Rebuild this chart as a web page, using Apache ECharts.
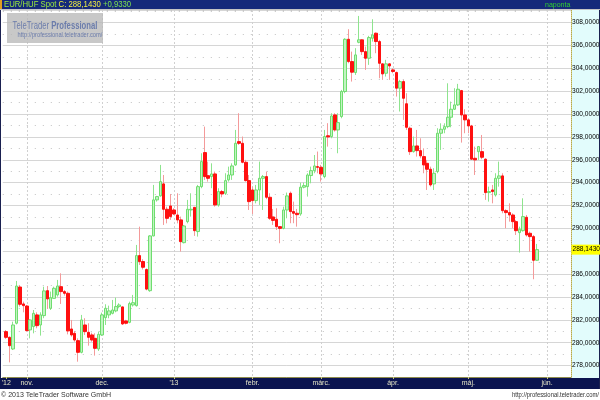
<!DOCTYPE html>
<html><head><meta charset="utf-8">
<script src="https://cdn.jsdelivr.net/npm/echarts@6/dist/echarts.min.js"></script>
<style>html,body{margin:0;padding:0;background:#fff}#c{width:600px;height:400px}</style>
</head><body><div id="c"></div>
<script>
// Trading days (weekdays) shown on the category axis
const monthDays = [
  ['2012-10', [23,24,25,26,29,30,31]],
  ['2012-11', [1,2,5,6,7,8,9,12,13,14,15,16,19,20,21,22,23,26,27,28,29,30]],
  ['2012-12', [3,4,5,6,7,10,11,12,13,14,17,18,19,20,21,24,25,26,27,28,31]],
  ['2013-01', [1,2,3,4,7,8,9,10,11,14,15,16,17,18,21,22,23,24,25,28,29,30,31]],
  ['2013-02', [1,4,5,6,7,8,11,12,13,14,15,18,19,20,21,22,25,26,27,28]],
  ['2013-03', [1,4,5,6,7,8,11,12,13,14,15,18,19,20,21,22,25,26,27,28,29]],
  ['2013-04', [1,2,3,4,5,8,9,10,11,12,15,16,17,18,19,22,23,24,25,26,29,30]],
  ['2013-05', [1,2,3,6,7,8,9,10,13,14,15,16,17,20,21,22,23,24,27,28,29,30,31]],
  ['2013-06', [3,4,5,6,7,10,11,12]]
];
const monthLabels = {
  '2012-10': "'12", '2012-11': 'nov.', '2012-12': 'dec.', '2013-01': "'13",
  '2013-02': 'febr.', '2013-03': 'márc.', '2013-04': 'ápr.', '2013-05': 'máj.', '2013-06': 'jún.'
};
const firstDataDate = '2012-10-24';

// EUR/HUF daily OHLC, 2012-10-24 .. 2013-05-29
const open = [280.97,280.47,279.45,281.70,284.87,283.39,283.21,281.12,281.41,282.43,
281.55,282.37,284.55,283.01,283.88,284.18,284.90,284.47,284.32,281.20,
280.82,280.18,279.16,281.55,280.91,280.68,280.38,279.45,280.68,282.19,
282.43,282.57,282.78,283.16,283.13,281.90,281.78,283.30,283.24,287.62,
287.10,286.40,284.55,289.34,292.49,292.84,293.89,291.67,291.96,291.61,
291.17,290.74,288.75,290.59,291.61,291.84,289.72,293.65,296.63,294.61,
294.53,294.76,292.05,293.22,293.07,294.24,294.67,295.55,297.59,297.44,
295.78,294.18,293.36,292.43,293.36,294.38,294.53,292.72,291.00,290.80,
290.15,290.00,291.61,293.07,291.47,291.32,291.26,293.60,293.65,294.62,
295.05,295.40,295.34,294.53,298.10,298.03,299.92,298.61,299.78,301.97,
306.54,304.59,303.63,306.28,306.49,305.46,304.88,306.63,307.07,306.34,
304.39,303.57,304.39,303.86,303.63,302.26,302.84,300.90,298.76,296.71,
297.21,296.80,296.28,295.69,295.17,293.89,294.97,298.32,298.67,298.90,
299.72,300.42,300.80,302.05,299.92,299.49,298.96,296.13,296.71,296.71,
296.05,293.13,293.36,292.92,294.38,294.59,291.55,291.38,291.17,290.59,
289.63,289.80,290.97,289.57,289.28,287.21];
const close = [280.47,279.74,281.55,284.96,283.36,283.24,281.06,281.99,282.57,281.49,
282.43,284.53,283.83,283.94,284.76,284.96,284.47,284.32,281.03,280.68,
280.24,279.16,281.99,280.97,280.47,280.24,279.51,280.73,282.43,283.01,
282.78,282.86,283.16,283.30,281.64,281.70,283.42,283.50,287.62,287.09,
286.60,284.69,289.34,292.49,292.78,294.09,291.67,290.88,291.03,291.26,
290.74,288.84,290.21,291.67,291.67,289.80,293.65,295.84,294.53,294.38,
294.76,292.05,293.22,293.01,294.18,294.67,295.46,297.44,297.44,295.78,
294.18,292.34,292.43,293.36,294.38,294.53,292.72,290.88,290.70,290.15,
290.00,291.61,292.84,291.47,291.32,291.20,293.60,293.74,294.67,295.05,
295.46,295.34,294.76,298.03,298.00,299.83,298.61,299.25,301.97,306.54,
304.59,303.66,305.17,306.49,305.46,304.88,306.69,306.92,306.34,304.44,
303.51,304.39,304.21,303.72,302.26,302.84,301.38,298.84,296.71,297.21,
296.80,296.34,295.55,295.17,293.80,294.82,298.32,298.67,298.90,299.72,
300.42,300.80,302.17,299.92,299.49,298.96,296.05,295.99,297.15,296.22,
293.13,293.22,293.22,294.38,294.59,291.55,291.38,291.17,290.59,289.80,
289.92,291.03,289.42,289.28,287.21,288.143];
const low = [280.33,278.28,279.36,281.60,283.16,282.66,280.97,280.38,280.82,281.26,
280.62,282.14,282.95,282.86,283.88,284.03,283.39,284.12,280.73,280.53,
280.09,278.34,279.07,280.68,279.74,280.09,278.87,279.28,280.59,281.55,
282.14,282.48,282.66,283.01,281.55,281.60,281.70,283.16,283.16,286.80,
286.40,284.58,284.45,289.30,292.34,292.78,290.30,290.44,290.74,291.17,
290.44,287.97,288.69,290.44,291.03,289.34,289.28,293.51,294.24,294.09,
293.51,291.90,291.90,292.72,292.92,294.09,294.24,295.46,297.30,295.69,
294.09,291.61,291.26,292.19,292.05,291.61,292.55,290.74,290.30,289.86,
288.70,289.92,290.88,290.45,290.45,290.15,291.10,293.50,292.78,293.94,
294.82,294.82,294.09,294.38,297.15,297.88,298.46,296.57,299.63,301.82,
304.44,302.84,303.42,306.19,305.17,303.86,304.30,306.34,305.32,303.13,
302.99,303.28,302.99,303.57,301.53,300.22,299.49,298.61,296.42,296.63,
296.28,296.13,294.82,293.36,293.65,293.36,294.82,296.86,298.32,298.76,
298.84,300.36,300.71,297.50,298.32,298.32,295.99,294.67,295.99,296.05,
292.49,292.34,292.19,292.78,293.65,291.32,290.01,290.59,290.01,289.42,
287.88,289.72,289.28,287.97,285.55,287.18];
const high = [281.11,280.55,281.84,285.40,285.05,283.59,283.30,282.05,282.86,282.66,
282.66,284.90,284.96,284.47,284.90,285.49,286.07,284.61,284.47,281.99,
281.03,280.38,282.43,282.14,281.70,280.88,280.82,280.97,282.63,283.36,
283.24,283.74,283.94,283.45,283.16,282.00,283.59,284.18,288.55,290.15,
287.30,286.50,289.40,293.80,292.84,295.55,294.67,291.90,293.01,291.76,
293.07,291.03,290.30,292.49,293.07,291.84,293.80,296.57,298.90,295.84,
295.69,294.97,293.51,293.36,294.82,295.40,295.69,298.61,300.07,298.03,
295.99,294.67,293.65,293.80,295.84,294.67,294.97,293.07,291.70,291.76,
290.20,291.90,293.13,293.22,292.34,291.70,294.00,294.00,294.82,295.40,
296.42,296.72,295.55,298.61,299.20,300.07,300.07,300.07,302.11,306.63,
307.42,305.46,305.76,308.58,306.54,305.90,306.84,308.29,307.13,306.49,
304.44,304.74,304.44,304.01,303.72,302.99,302.99,301.82,298.90,298.03,
298.61,297.88,297.00,295.99,295.40,295.26,298.76,299.19,299.19,302.69,
301.09,302.26,302.64,302.11,300.42,299.63,299.05,297.15,297.21,298.17,
296.13,293.65,293.80,294.82,295.84,294.82,291.67,292.19,291.32,290.74,
290.15,292.63,291.17,289.72,289.42,288.64];

const yMin = 277, yMax = 309.1;

// ---- derived ----
const dates = [];
monthDays.forEach(([m, ds]) => ds.forEach(d => dates.push(m + '-' + String(d).padStart(2, '0'))));
const offset = dates.indexOf(firstDataDate);
const labelAt = {}, monthStart = {};
dates.forEach((d, i) => {
  const m = d.slice(0, 7);
  if (d === firstDataDate) labelAt[i] = monthLabels[m];
  else if (i > 0 && m !== dates[i - 1].slice(0, 7)) { labelAt[i] = monthLabels[m]; monthStart[i] = true; }
});
const wickData = open.map((o, k) => [k + offset, o, close[k], low[k], high[k]]);
const bodyData = open.map((o, k) => [k + offset, o, close[k], Math.min(o, close[k]), Math.max(o, close[k])]);
const lastClose = close[close.length - 1];
const change = lastClose - close[close.length - 2];
const fmt = v => v.toFixed(4).replace('.', ',');

const FONT = '"Liberation Sans",Arial,sans-serif';
const NAVY_TOP = '#15297a', NAVY_BOT = '#0b1450';

const chart = echarts.init(document.getElementById('c'), null, {renderer: 'canvas'});
chart.setOption({
  animation: false,
  backgroundColor: '#ffffff',
  grid: {left: 2.8, right: 29, top: 10, bottom: 23, containLabel: false, outerBoundsMode: 'none'},
  xAxis: [{
    type: 'category', data: dates, boundaryGap: false,
    axisLine: {show: true, lineStyle: {color: '#8e8c4c', width: 1}},
    axisTick: {show: true, interval: i => !!labelAt[i], length: 2, lineStyle: {color: '#c8c880'}},
    axisLabel: {interval: i => !!labelAt[i], formatter: (v, i) => labelAt[i] || '', color: '#e6e6c8',
      fontSize: 7, fontFamily: FONT, margin: 3},
    splitLine: {show: true, interval: i => !!monthStart[i], lineStyle: {color: '#d0d0d0', type: [2, 2], width: 1}}
  }],
  yAxis: [{
    type: 'value', position: 'right', min: yMin, max: yMax, interval: 1,
    axisLine: {show: true, lineStyle: {color: '#b8ac48', type: [1, 1]}},
    axisTick: {show: false},
    axisLabel: {margin: 1, fontSize: 6.6, fontFamily: FONT, color: '#000',
      formatter: v => (Math.abs(v % 2) < 1e-9 && Math.abs(v - lastClose) > 1) ? fmt(v) : ''},
    splitLine: {show: true, lineStyle: {color: ['rgba(0,0,0,0)', '#d6d6d6'], width: 1}}
  }, {
    type: 'value', position: 'right', min: yMin, max: yMax, interval: 2,
    axisLine: {show: false}, axisTick: {show: false}, axisLabel: {show: false},
    splitLine: {show: true, lineStyle: {color: '#c2c2c2', type: [1, 7], width: 1}}
  }],
  series: [{
    type: 'candlestick', name: 'wick', data: wickData, encode: {x: 0, y: [1, 2, 3, 4]},
    barWidth: 1, silent: true,
    itemStyle: {color: '#8ee48e', color0: '#f49a9a', borderColor: '#8ee48e', borderColor0: '#f49a9a', borderWidth: 1}
  }, {
    type: 'candlestick', name: 'body', data: bodyData, encode: {x: 0, y: [1, 2, 3, 4]},
    barWidth: 3, silent: true,
    itemStyle: {color: '#c2f3c2', color0: '#ff1010', borderColor: '#6ede6e', borderColor0: '#ff1010', borderWidth: 1},
    markLine: {
      silent: true, symbol: ['none', 'none'],
      lineStyle: {color: 'rgba(0,0,0,0)', width: 0},
      label: {show: true, position: 'end', distance: 0.5, formatter: () => fmt(lastClose),
        backgroundColor: '#ffff00', color: '#000', fontSize: 6.6, fontFamily: FONT, padding: [2, 1, 1, 1]},
      data: [{yAxis: lastClose}]
    }
  }],
  graphic: [
    {type: 'rect', z: -2, shape: {x: 572, y: 10, width: 28, height: 368}, style: {fill: '#e2fcfc'}},
    {type: 'rect', z: -2, shape: {x: 0, y: 378, width: 600, height: 11}, style: {fill: NAVY_BOT}},
    {type: 'rect', z: -1, shape: {x: 599, y: 0, width: 1, height: 389}, style: {fill: '#1a2050'}},
    {type: 'rect', z: 10, shape: {x: 0, y: 0, width: 600, height: 9}, style: {fill: NAVY_TOP}},
    {type: 'rect', z: 10, shape: {x: 0, y: 9, width: 600, height: 1}, style: {fill: '#c4c4c4'}},
    {type: 'rect', z: 11, shape: {x: 0, y: 0, width: 2, height: 9}, style: {fill: '#e0a020'}},
    {type: 'rect', z: 10, shape: {x: 0, y: 10, width: 1, height: 368}, style: {fill: '#1a2050'}},
    {type: 'text', z: 12, x: 4, y: 4.8, scaleX: 0.86, style: {
      text: '{a|EUR/HUF Spot} {b|C: ' + fmt(lastClose) + '} {c|' + (change >= 0 ? '+' : '') + fmt(change) + '}',
      verticalAlign: 'middle', font: '9px ' + FONT,
      rich: {a: {fill: '#9cec3c', font: '9px ' + FONT}, b: {fill: '#f0f040', font: '9px ' + FONT}, c: {fill: '#7ce050', font: '9px ' + FONT}}
    }},
    {type: 'text', z: 12, x: 545, y: 4.8, style: {text: 'naponta', fill: '#30d030', font: '7px ' + FONT, verticalAlign: 'middle'}},
    {type: 'rect', z: 5, shape: {x: 7, y: 13, width: 96, height: 30}, style: {fill: 'rgba(184,184,184,0.78)'}},
    {type: 'text', z: 6, x: 55, y: 26, scaleX: 0.7, style: {
      text: '{a|TeleTrader }{b|Professional}', align: 'center', verticalAlign: 'middle',
      rich: {a: {fill: '#6b7cab', font: '11px ' + FONT}, b: {fill: '#6b7cab', font: 'bold 11px ' + FONT}}
    }},
    {type: 'text', z: 6, x: 60, y: 35.5, scaleX: 0.82, style: {text: 'http://professional.teletrader.com/', fill: '#6b7cab',
      font: '7px ' + FONT, align: 'center', verticalAlign: 'middle'}},
    {type: 'text', z: 6, x: 1, y: 395, scaleX: 0.88, style: {text: '© 2013 TeleTrader Software GmbH', fill: '#333',
      font: '8px ' + FONT, verticalAlign: 'middle'}},
    {type: 'text', z: 6, x: 599, y: 395, scaleX: 0.84, style: {text: 'http://professional.teletrader.com/', fill: '#333',
      font: '7px ' + FONT, align: 'right', verticalAlign: 'middle'}}
  ]
});
</script></body></html>
